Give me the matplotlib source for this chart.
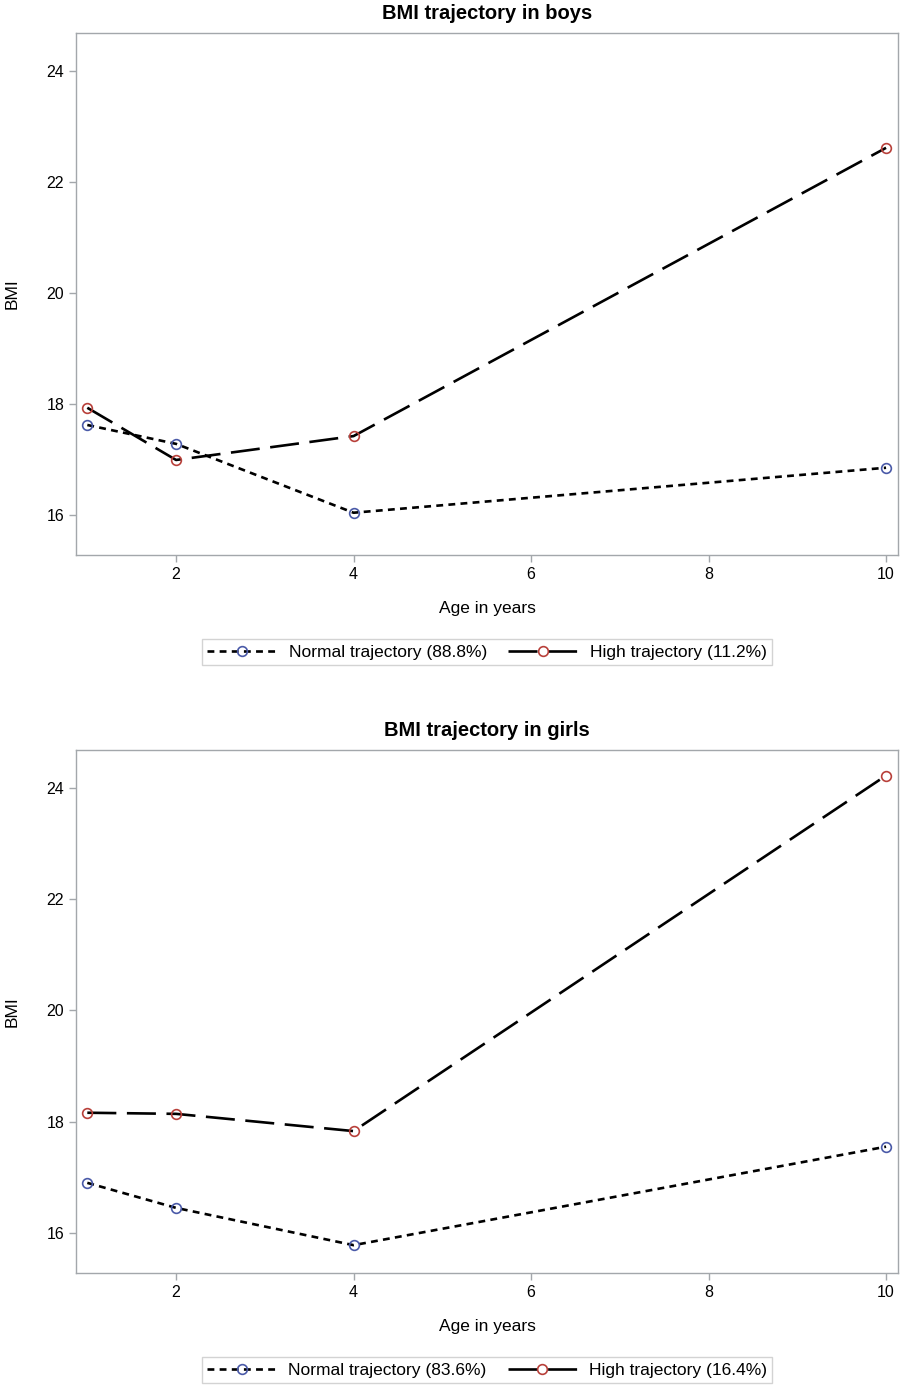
import matplotlib.pyplot as plt

plt.rcParams['font.family'] = ['Liberation Sans', 'DejaVu Sans']

ages = [1, 2, 4, 10]

# BMI values
boys_normal = [17.62, 17.28, 16.04, 16.85]
boys_high = [17.93, 16.99, 17.42, 22.61]
girls_normal = [16.90, 16.45, 15.78, 17.55]
girls_high = [18.16, 18.14, 17.83, 24.22]

titles = ['BMI trajectory in boys', 'BMI trajectory in girls']
normal_labels = ['Normal trajectory (88.8%)', 'Normal trajectory (83.6%)']
high_labels = ['High trajectory (11.2%)', 'High trajectory (16.4%)']

frame_col = '#a3a7ab'
blue = '#4a5aa8'
red = '#b8403a'

fig = plt.figure(figsize=(9.02, 13.87), dpi=100)
positions = [[0.0843, 0.5999, 0.9113, 0.3764], [0.0843, 0.0822, 0.9113, 0.3771]]
series = [(boys_normal, boys_high), (girls_normal, girls_high)]

for k in range(2):
    ax = fig.add_axes(positions[k])
    normal, high = series[k]

    ax.plot(ages, normal, color='black', lw=1.9, ls=(0, (2.6, 2.0)),
            marker='o', ms=7, mfc='none', mec=blue, mew=1.2,
            label=normal_labels[k])
    ax.plot(ages, high, color='black', lw=1.9, ls=(0, (11, 4)),
            marker='o', ms=7, mfc='none', mec=red, mew=1.2,
            label=high_labels[k])

    ax.set_xlim(0.873, 10.135)
    ax.set_ylim(15.28, 24.68)
    ax.set_xticks([2, 4, 6, 8, 10])
    ax.set_yticks([16, 18, 20, 22, 24])

    for s in ax.spines.values():
        s.set_color(frame_col)
        s.set_linewidth(1.0)
    ax.tick_params(colors=frame_col, labelcolor='black', labelsize=11.5, length=5, width=1)

    ax.set_title(titles[k], fontsize=14.5, fontweight='bold', pad=10)
    ax.set_xlabel('Age in years', fontsize=12.5, labelpad=14)
    ax.set_ylabel('BMI', fontsize=12.5, labelpad=19)

    leg = ax.legend(loc='center', bbox_to_anchor=(0.5, -0.186), ncol=2,
                    fontsize=12.5, frameon=True, fancybox=False,
                    handlelength=4, columnspacing=1.2, handletextpad=0.7,
                    borderpad=0.3)
    leg.get_frame().set_edgecolor('#c8c8c8')
    leg.get_frame().set_linewidth(1.0)

fig.savefig('out.png', dpi=100)
